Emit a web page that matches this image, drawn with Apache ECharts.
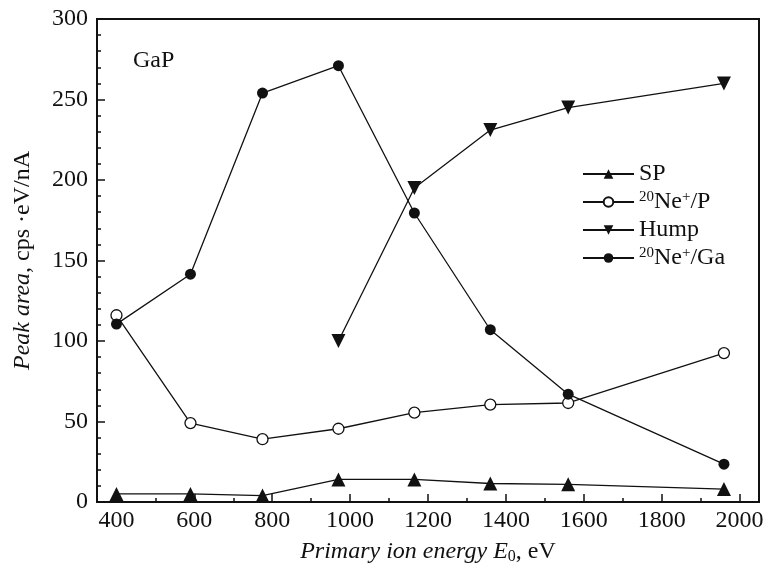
<!DOCTYPE html>
<html>
<head>
<meta charset="utf-8">
<script src="https://cdn.jsdelivr.net/npm/echarts@6/dist/echarts.min.js"></script>
<style>
  html, body { margin: 0; padding: 0; background: #fff; }
  #chart { width: 768px; height: 570px; }
</style>
</head>
<body>
<div id="chart"></div>
<script>
// values
const energies = [400, 590, 775, 970, 1165, 1360, 1560, 1960]
const spValues = [5, 5, 4, 14, 14, 11.5, 11, 8]
const neP = [116, 49, 39, 45.5, 55.5, 60.5, 61.5, 92.5]
const humpEnergies = [970, 1165, 1360, 1560, 1960]
const humpValues = [100, 195, 231, 245, 260]
const neGa = [110.5, 141.5, 254, 271, 179.5, 107, 67, 23.5]

const xMajorTicks = [400, 600, 800, 1000, 1200, 1400, 1600, 1800, 2000]
const xMinorTicks = [500, 700, 900, 1100, 1300, 1500, 1700, 1900]

const legendNames = {
  'SP': 'SP',
  'NeP': '{sup|20}Ne{sup|+}/P',
  'Hump': 'Hump',
  'NeGa': '{sup|20}Ne{sup|+}/Ga',
}

const font = 'Liberation Serif'
const ink = '#111'
const fs = 24

const pairs = (xs, ys) => xs.map((x, i) => [x, ys[i]])

const lineBase = {
  type: 'line',
  color: ink,
  lineStyle: { color: ink, width: 1.3 },
  animation: false,
  z: 3,
}

const chart = echarts.init(document.getElementById('chart'), null, { renderer: 'canvas' })

chart.setOption({
  backgroundColor: '#fff',
  grid: {
    left: 97, right: 9, top: 19, bottom: 65,
    show: true, borderColor: ink, borderWidth: 2, backgroundColor: 'transparent',
  },
  legend: {
    orient: 'vertical',
    left: 582,
    top: 162,
    padding: 0,
    itemWidth: 51,
    itemHeight: 12,
    itemGap: 4,
    selectedMode: false,
    data: ['SP', 'NeP', 'Hump', 'NeGa'],
    formatter: (n) => legendNames[n],
    textStyle: {
      fontFamily: font, fontSize: fs, color: ink, lineHeight: 24, padding: [0, 0, 0, 0],
      rich: {
        sup: { fontFamily: font, fontSize: 15, color: ink, verticalAlign: 'top', lineHeight: 24 },
      },
    },
  },
  graphic: [
    {
      type: 'text',
      left: 133, top: 49,
      style: { text: 'GaP', fontFamily: font, fontSize: fs, fill: ink },
    },
  ],
  xAxis: [
    {
      type: 'value',
      min: 350, max: 2050,
      position: 'bottom',
      name: '{i|Primary ion energy E}{sub|0}{n|, eV}',
      nameLocation: 'middle',
      nameGap: 37,
      nameTextStyle: {
        rich: {
          i: { fontFamily: font, fontStyle: 'italic', fontSize: fs, color: ink },
          sub: { fontFamily: font, fontSize: 16, color: ink, verticalAlign: 'bottom', padding: [10, 0, 0, 0] },
          n: { fontFamily: font, fontSize: fs, color: ink },
        },
      },
      axisLine: { show: true, onZero: false, lineStyle: { color: ink, width: 2 } },
      axisTick: { show: true, inside: true, length: 8, customValues: xMajorTicks, lineStyle: { color: ink, width: 1.5 } },
      axisLabel: { customValues: xMajorTicks, formatter: (v) => String(v), fontFamily: font, fontSize: fs, color: ink, margin: 7 },
      splitLine: { show: false },
    },
    {
      type: 'value',
      min: 350, max: 2050,
      position: 'bottom',
      axisLine: { show: false },
      axisTick: { show: true, inside: true, length: 4, customValues: xMinorTicks, lineStyle: { color: ink, width: 1.5 } },
      axisLabel: { show: false },
      splitLine: { show: false },
    },
  ],
  yAxis: {
    type: 'value',
    min: 0, max: 300, interval: 50,
    name: '{i|Peak area}{n|, cps ·eV/nA}',
    nameLocation: 'middle',
    nameGap: 62,
    nameTextStyle: {
      rich: {
        i: { fontFamily: font, fontStyle: 'italic', fontSize: fs, color: ink },
        n: { fontFamily: font, fontSize: fs, color: ink },
      },
    },
    axisLine: { show: true, lineStyle: { color: ink, width: 2 } },
    axisTick: { show: true, inside: true, length: 8, lineStyle: { color: ink, width: 1.5 } },
    minorTick: { show: true, splitNumber: 5, length: 4, lineStyle: { color: ink, width: 1.5 } },
    axisLabel: { fontFamily: font, fontSize: fs, color: ink, margin: 9 },
    splitLine: { show: false },
  },
  series: [
    {
      ...lineBase,
      name: 'SP',
      data: pairs(energies, spValues),
      symbol: 'triangle',
      symbolSize: 14,
      itemStyle: { color: ink, borderWidth: 0 },
    },
    {
      ...lineBase,
      name: 'NeP',
      data: pairs(energies, neP),
      symbol: 'circle',
      symbolSize: 11,
      itemStyle: { color: '#fff', borderColor: ink, borderWidth: 1.3 },
    },
    {
      ...lineBase,
      name: 'Hump',
      data: pairs(humpEnergies, humpValues),
      symbol: 'triangle',
      symbolRotate: 180,
      symbolSize: 14,
      itemStyle: { color: ink, borderWidth: 0 },
    },
    {
      ...lineBase,
      name: 'NeGa',
      data: pairs(energies, neGa),
      symbol: 'circle',
      symbolSize: 11,
      itemStyle: { color: ink, borderWidth: 0 },
    },
  ],
})
</script>
</body>
</html>
